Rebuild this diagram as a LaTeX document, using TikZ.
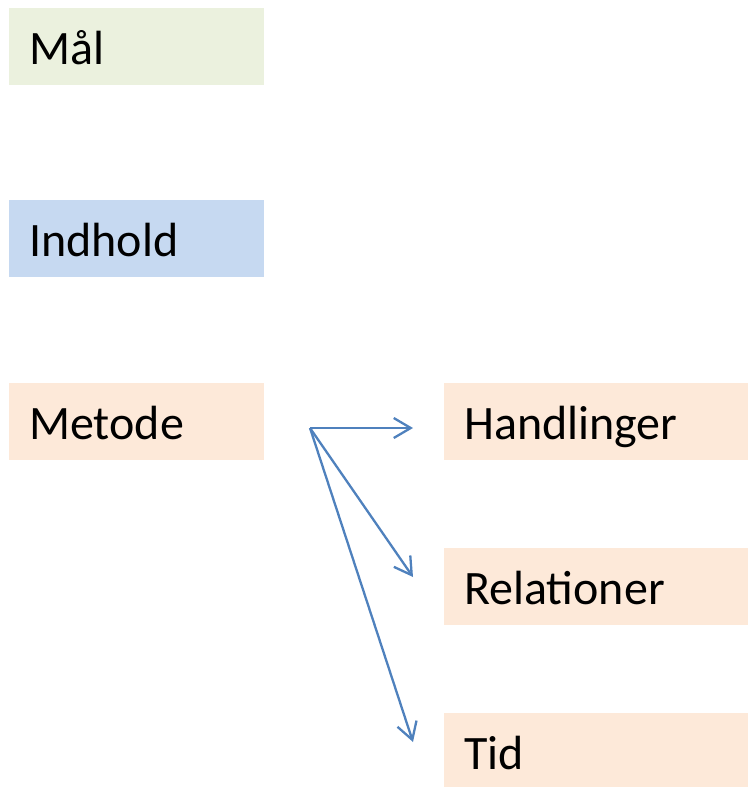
\documentclass[tikz,border=0pt]{standalone}
\usepackage{fontspec}
\setmainfont{Carlito}
\usetikzlibrary{arrows.meta}

\definecolor{maalgreen}{HTML}{EBF1DE}
\definecolor{indholdblue}{HTML}{C6D9F1}
\definecolor{metodepeach}{HTML}{FDE9D9}
\definecolor{pilblue}{HTML}{4F81BD}

\tikzset{
  felt/.style={anchor=north west, inner xsep=20pt, inner ysep=0pt,
    minimum height=77pt, text height=46pt, text depth=10pt,
    align=left, font=\fontsize{48}{56}\selectfont},
  venstre/.style={felt, text width=215pt},
  hoejre/.style={felt, text width=264pt},
  pil/.style={draw=pilblue, line width=2.3pt,
    -{Straight Barb[length=17pt,width=20pt,line width=2.3pt]}}
}

\begin{document}
\begin{tikzpicture}[x=1pt,y=-1pt]

\useasboundingbox (0,0) rectangle (748,787);

\node[venstre, fill=maalgreen] (maal) at (9,8) {Mål};
\node[venstre, fill=indholdblue] (indhold) at (9,200) {Indhold};
\node[venstre, fill=metodepeach] (metode) at (9,383) {Metode};

\node[hoejre, fill=metodepeach] (handlinger) at (444,383) {Handlinger};
\node[hoejre, fill=metodepeach] (relationer) at (444,548) {Relationer};
\node[hoejre, fill=metodepeach] (tid) at (444,713) {Tid};

\coordinate (S) at (310,428);
\coordinate (H) at (413,428);
\coordinate (R) at (413,577);
\coordinate (T) at (413,742);

\draw[pil] (S) -- (H);
\draw[pil] (S) -- (R);
\draw[pil] (S) -- (T);

\end{tikzpicture}
\end{document}
